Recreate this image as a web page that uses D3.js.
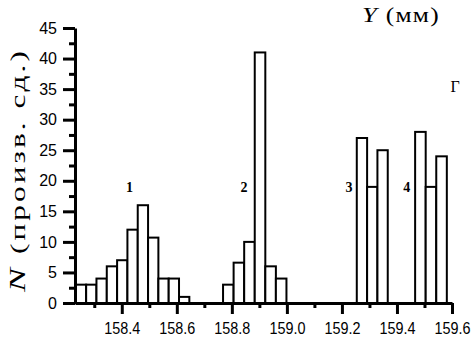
<!DOCTYPE html>
<html lang="ru">
<head>
    <meta charset="UTF-8">
    <title>Histogram N(Y)</title>
    <script src="https://d3js.org/d3.v7.min.js"></script>
    <style>
        body {
            margin: 0;
            background: #fff;
        }
        .tick text {
            font-family: "Liberation Sans", Arial, sans-serif;
            font-size: 16px;
            fill: #000;
        }
        .serif {
            font-family: "Liberation Serif", "Times New Roman", serif;
            fill: #000;
        }
    </style>
</head>
<body>
<script>
    // Data
    const groupStarts = [158.233, 158.768, 159.254, 159.466];
    const groupBinWidths = [0.0375, 0.0384, 0.0375, 0.0384];
    const groupCounts = [
        [3, 3, 4, 6, 7, 12, 16, 10.7, 4, 4, 1],
        [3, 6.6, 10, 41, 6, 4],
        [27, 19, 25],
        [28, 19, 24]
    ];
    const groupLabels = ["1", "2", "3", "4"];
    const groupLabelX = [158.428, 158.844, 159.2255, 159.436];
    const groupLabelY = 19;

    const yTicks = d3.range(0, 46, 5);
    const yMinorTicks = d3.range(2.5, 45, 5);
    const xTicks = [158.4, 158.6, 158.8, 159.0, 159.2, 159.4, 159.6];
    const xMinorTicks = [158.3, 158.5, 158.7, 158.9, 159.1, 159.3, 159.5];

    const width = 474, height = 338;

    const svg = d3.select("body").append("svg")
        .attr("width", width)
        .attr("height", height);

    const x = d3.scaleLinear().domain([158.23, 159.6]).range([75, 452]);
    const y = d3.scaleLinear().domain([0, 45]).range([303, 28]);

    // flatten bins
    const bins = [];
    groupCounts.forEach((counts, g) => {
        counts.forEach((c, i) => {
            const x0 = groupStarts[g] + i * groupBinWidths[g];
            bins.push({x0: x0, x1: x0 + groupBinWidths[g], n: c});
        });
    });

    svg.append("g").selectAll("rect")
        .data(bins)
        .join("rect")
        .attr("x", d => x(d.x0))
        .attr("y", d => y(d.n))
        .attr("width", d => x(d.x1) - x(d.x0))
        .attr("height", d => y(0) - y(d.n))
        .attr("fill", "#fff")
        .attr("stroke", "#000")
        .attr("stroke-width", 2);

    // axes
    svg.append("g")
        .attr("transform", `translate(${x.range()[0]},0)`)
        .call(d3.axisLeft(y).tickValues(yTicks).tickSize(12).tickSizeOuter(0).tickPadding(6));
    svg.append("g")
        .attr("transform", `translate(${x.range()[0]},0)`)
        .call(d3.axisLeft(y).tickValues(yMinorTicks).tickSize(6).tickSizeOuter(0).tickFormat(""))
        .call(g => g.select(".domain").remove());

    svg.append("g")
        .attr("transform", `translate(0,${y(0)})`)
        .call(d3.axisBottom(x).tickValues(xTicks).tickSize(11).tickSizeOuter(0)
            .tickFormat(d3.format(".1f")).tickPadding(9))
        .call(g => g.selectAll(".tick text")
            .attr("textLength", 36)
            .attr("lengthAdjust", "spacingAndGlyphs"));
    svg.append("g")
        .attr("transform", `translate(0,${y(0)})`)
        .call(d3.axisBottom(x).tickValues(xMinorTicks).tickSize(5).tickSizeOuter(0).tickFormat(""))
        .call(g => g.select(".domain").remove());

    svg.selectAll(".domain").attr("stroke", "#000").attr("stroke-width", 3);
    svg.selectAll(".tick line").attr("stroke", "#000").attr("stroke-width", 3);

    // group numbers
    svg.append("g").selectAll("text")
        .data(groupLabels)
        .join("text")
        .attr("class", "serif")
        .attr("x", (d, i) => x(groupLabelX[i]))
        .attr("y", y(groupLabelY))
        .attr("dy", "0.35em")
        .attr("text-anchor", "middle")
        .attr("font-size", 14)
        .attr("font-weight", "bold")
        .text(d => d);

    // axis titles
    const yTitle = svg.append("text")
        .attr("class", "serif")
        .attr("transform", "translate(25,292) rotate(-90)")
        .attr("font-size", 20)
        .attr("letter-spacing", 2)
        .attr("textLength", 244)
        .attr("lengthAdjust", "spacingAndGlyphs");
    yTitle.append("tspan").attr("font-style", "italic").attr("font-size", 23).text("N");
    yTitle.append("tspan").text(" (произв. сд.)");

    const xTitle = svg.append("text")
        .attr("class", "serif")
        .attr("x", 362)
        .attr("y", 22)
        .attr("font-size", 20)
        .attr("letter-spacing", 1)
        .attr("textLength", 78)
        .attr("lengthAdjust", "spacingAndGlyphs");
    xTitle.append("tspan").attr("font-style", "italic").attr("font-size", 21).text("Y");
    xTitle.append("tspan").text(" (мм)");

    svg.append("text")
        .attr("class", "serif")
        .attr("x", 455)
        .attr("y", 92)
        .attr("text-anchor", "middle")
        .attr("font-size", 16)
        .text("Г");
</script>
</body>
</html>
